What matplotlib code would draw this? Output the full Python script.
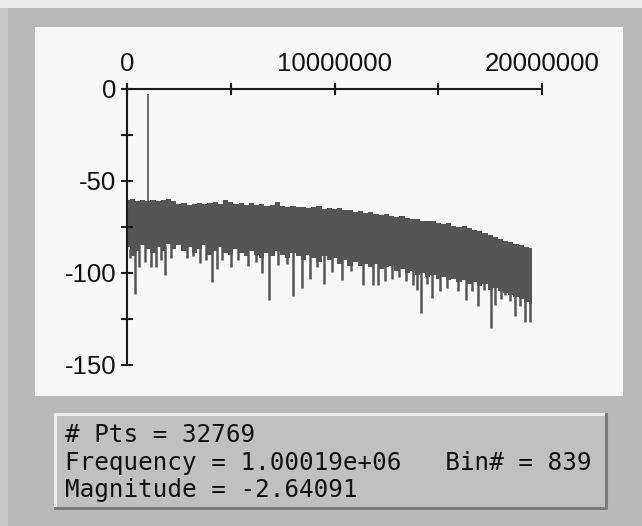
import numpy as np
import matplotlib.pyplot as plt
from matplotlib.patches import Rectangle
from matplotlib.lines import Line2D

plt.rcParams['axes.unicode_minus'] = False

# band of the spectrum, every 0.25 MHz
band_mhz = [0.0, 0.25, 0.5, 0.75, 1.0, 1.25, 1.5, 1.75, 2.0, 2.25,
            2.5, 2.75, 3.0, 3.25, 3.5, 3.75, 4.0, 4.25, 4.5, 4.75,
            5.0, 5.25, 5.5, 5.75, 6.0, 6.25, 6.5, 6.75, 7.0, 7.25,
            7.5, 7.75, 8.0, 8.25, 8.5, 8.75, 9.0, 9.25, 9.5, 9.75,
            10.0, 10.25, 10.5, 10.75, 11.0, 11.25, 11.5, 11.75, 12.0, 12.25,
            12.5, 12.75, 13.0, 13.25, 13.5, 13.75, 14.0, 14.25, 14.5, 14.75,
            15.0, 15.25, 15.5, 15.75, 16.0, 16.25, 16.5, 16.75, 17.0, 17.25,
            17.5, 17.75, 18.0, 18.25, 18.5, 18.75, 19.0, 19.25, 19.5]
band_top = [-60.5, -60.0, -60.8, -60.3, -60.6, -60.2, -60.9, -60.4, -60.0, -61.0,
            -62.6, -62.0, -63.0, -62.3, -61.8, -62.7, -62.1, -61.6, -62.4, -60.4,
            -61.2, -62.5, -61.9, -62.8, -62.2, -63.1, -62.6, -63.4, -62.9, -61.3,
            -63.6, -64.0, -63.5, -64.4, -63.9, -64.8, -64.3, -63.8, -65.0, -64.6,
            -65.2, -64.5, -66.0, -65.6, -66.6, -66.1, -67.2, -66.8, -67.9, -68.4,
            -68.0, -69.1, -69.6, -69.2, -70.3, -70.8, -70.4, -71.5, -72.0, -71.6,
            -72.8, -73.4, -73.0, -74.2, -74.8, -74.5, -75.8, -76.4, -77.0, -78.0,
            -79.4, -80.2, -81.5, -82.4, -83.4, -84.2, -85.0, -85.6, -86.2]
band_bottom = [-86, -91, -88, -85, -87, -89, -86, -88, -84, -87,
               -85, -88, -86, -89, -87, -85, -90, -88, -86, -89,
               -90, -87, -89, -91, -88, -90, -92, -89, -91, -88,
               -90, -92, -89, -91, -93, -90, -92, -94, -91, -93,
               -92, -95, -93, -96, -94, -96, -95, -97, -95, -98,
               -97, -96, -99, -98, -100, -99, -101, -100, -102, -101,
               -103, -102, -104, -103, -105, -104, -106, -105, -107, -106,
               -109, -108, -110, -111, -112, -113, -114, -116, -117]

# downward spikes below the band
spike_mhz = [0.14, 0.39, 0.59, 0.87, 1.14, 1.40, 1.62, 1.83, 2.1, 2.9,
             3.2, 3.52, 3.8, 4.08, 4.32, 4.6, 5.01, 5.35, 5.82, 6.2,
             6.52, 6.86, 7.3, 7.7, 7.99, 8.42, 8.82, 9.15, 9.51, 9.86,
             10.35, 10.8, 11.39, 11.84, 12.11, 12.43, 12.75, 13.1, 13.45, 13.80,
             13.99, 14.15, 14.45, 14.69, 15.1, 15.40, 15.97, 16.32, 16.61, 16.90,
             17.22, 17.54, 17.74, 18.0, 18.22, 18.45, 18.70, 18.94, 19.19, 19.43]
spike_db = [-92, -111.5, -97, -94, -97, -97, -93, -101.3, -92, -92,
            -91, -94.6, -93, -104.9, -97.7, -93, -97, -93, -96.4, -94,
            -100, -114.5, -95.6, -95, -112.7, -108.2, -103.1, -97, -106, -99.3,
            -103.6, -99, -106.7, -106.5, -106.7, -104.5, -103.3, -102, -104.5, -106.4,
            -109.1, -121.8, -106, -113.6, -110, -108.2, -110, -114.5, -110, -118.2,
            -109, -130, -117.3, -114, -111.8, -115, -123.6, -118.2, -126.4, -126.4]

# marker readout
n_pts = 32769
peak_freq = 1.00019e+06
peak_bin = 839
peak_mag = -2.64091

x_major = [0, 10000000, 20000000]
x_minor = [5000000, 15000000]
y_major = [-150, -100, -50, 0]
y_minor = [-125, -75, -25]

W, H = 642, 526
fig = plt.figure(figsize=(W / 100, H / 100), dpi=100, facecolor='#b9b9b9')

# window chrome
fig.patches.append(Rectangle((0, 1 - 8 / H), 1, 8 / H, transform=fig.transFigure,
                             fc='#ececec', ec='none', zorder=-2))
fig.patches.append(Rectangle((0, 0), 8 / W, 1 - 8 / H, transform=fig.transFigure,
                             fc='#c6c6c6', ec='none', zorder=-2))
fig.patches.append(Rectangle((35 / W, 1 - 396 / H), 588 / W, 369 / H,
                             transform=fig.transFigure, fc='#f8f8f8', ec='none', zorder=-2))

ax = fig.add_axes([127 / W, 1 - 365 / H, 415 / W, 276 / H])
ax.set_zorder(2)
ax.patch.set_alpha(0)

f_hz = np.array(band_mhz) * 1e6
ax.fill_between(f_hz, band_bottom, band_top, step='mid', color='#555555', lw=0)
s_hz = np.array(spike_mhz) * 1e6
s_start = np.interp(s_hz, f_hz, band_bottom) + 2
ax.vlines(s_hz, spike_db, s_start, color='#555555', lw=1.8)
ax.vlines(peak_freq, peak_mag, -62, color='#555555', lw=1.2)

ax.set_xlim(0, 20000000)
ax.set_ylim(-150, 0)
for s in ['right', 'bottom']:
    ax.spines[s].set_visible(False)
for s in ['top', 'left']:
    ax.spines[s].set_linewidth(1.5)
    ax.spines[s].set_color('#1a1a1a')

ax.xaxis.tick_top()
ax.set_xticks(x_major)
ax.set_xticklabels([str(v) for v in x_major])
ax.set_xticks(x_minor, minor=True)
ax.set_yticks(y_major)
ax.set_yticklabels([str(v) for v in y_major])
ax.set_yticks(y_minor, minor=True)
ax.tick_params(which='both', direction='inout', length=9, width=1.5, color='#1a1a1a')
ax.tick_params(axis='x', pad=5)
ax.tick_params(axis='y', pad=3)
for lab in ax.get_xticklabels() + ax.get_yticklabels():
    lab.set_fontfamily('Liberation Sans')
    lab.set_fontsize(18.5)
    lab.set_color('#111111')

# readout box with bevel
bx0, bx1, by0, by1 = 54.5, 606, 414, 508
fig.patches.append(Rectangle((bx0 / W, 1 - by1 / H), (bx1 - bx0) / W, (by1 - by0) / H,
                             transform=fig.transFigure, fc='#c0c0c0', ec='none', zorder=-1))
fig.lines.append(Line2D([bx0 / W, bx0 / W, bx1 / W], [1 - by1 / H, 1 - by0 / H, 1 - by0 / H],
                        transform=fig.transFigure, color='#ededed', lw=2.2))
fig.lines.append(Line2D([bx0 / W, bx1 / W, bx1 / W], [1 - by1 / H, 1 - by1 / H, 1 - by0 / H],
                        transform=fig.transFigure, color='#7a7a7a', lw=2.2))

lines = ['# Pts = %d' % n_pts,
         'Frequency = %g   Bin# = %d' % (peak_freq, peak_bin),
         'Magnitude = %g' % peak_mag]
for txt, yy in zip(lines, [435, 463, 490]):
    fig.text(65 / W, 1 - yy / H, txt, family='DejaVu Sans Mono', size=17.5,
             va='center', ha='left', color='#111111')

fig.savefig('out.png', dpi=100)
